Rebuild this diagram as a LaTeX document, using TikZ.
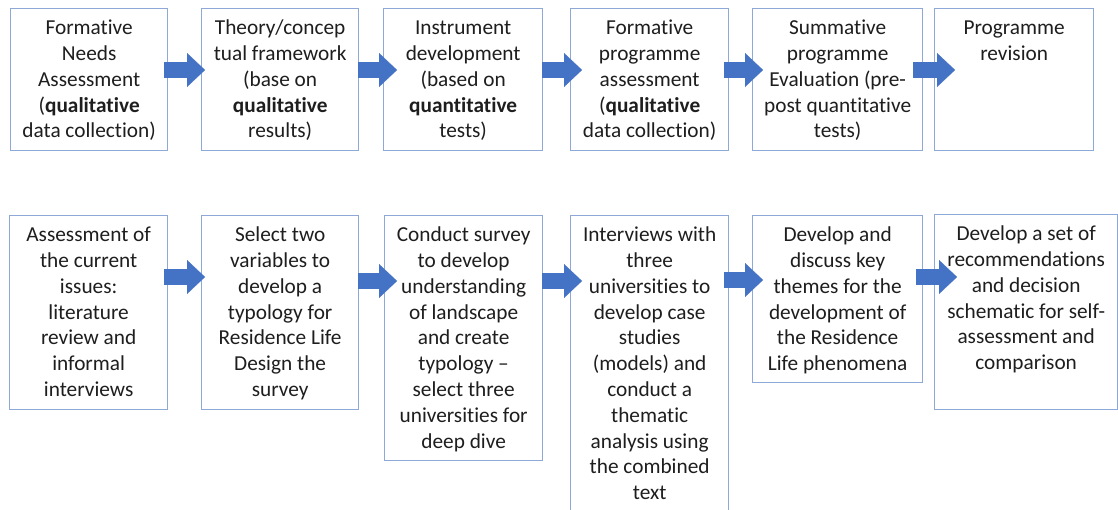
\documentclass[tikz,border=0pt]{standalone}
\usepackage{fontspec}
\setmainfont{Carlito}[Ligatures=NoCommon]
\usetikzlibrary{arrows.meta,calc}
\definecolor{boxline}{HTML}{8EA8D8}
\definecolor{flow}{HTML}{4472C4}
\definecolor{ink}{HTML}{1E1E1E}
\setlength{\parindent}{0pt}
% top-aligned, centred cell text of a given width and height
\newcommand{\celltext}[3]{\begin{minipage}[t][#2][t]{#1}\centering\rule{0pt}{26pt}#3\end{minipage}}
\tikzset{
  stagebox/.style={draw=boxline, line width=1.3pt, inner sep=0pt, anchor=north west,
    text=ink, font=\fontsize{21.3pt}{25.8pt}\selectfont},
  fatarrow/.style={draw=flow, line width=16pt,
    -{Triangle[length=18pt,width=34pt,line width=0.2pt]}}
}
\begin{document}
\begin{tikzpicture}[x=1pt,y=-1pt]
\clip (0,0) rectangle (1118,510);
\fill[white] (0,0) rectangle (1118,510);

% upper row: programme evaluation cycle
\node[stagebox] (t1) at (10,8) {\celltext{157pt}{142pt}{Formative\\ Needs\\ Assessment\\ (\textbf{qualitative}\\ data collection)}};
\node[stagebox] (t2) at (201,8) {\celltext{157pt}{142pt}{Theory/concep\\ tual framework\\ (base on\\ \textbf{qualitative}\\ results)}};
\node[stagebox] (t3) at (383,8) {\celltext{159pt}{142pt}{Instrument\\ development\\ (based on\\ \textbf{quantitative}\\ tests)}};
\node[stagebox] (t4) at (570,8) {\celltext{158pt}{142pt}{Formative\\ programme\\ assessment\\ (\textbf{qualitative}\\ data collection)}};
\node[stagebox] (t5) at (752,8) {\celltext{170pt}{142pt}{Summative\\ programme\\ Evaluation (pre-\\ post quantitative\\ tests)}};
\node[stagebox] (t6) at (934,8) {\celltext{159pt}{142pt}{Programme\\ revision}};

% lower row: study steps
\node[stagebox] (b1) at (9,215) {\celltext{158pt}{194pt}{Assessment of\\ the current\\ issues:\\ literature\\ review and\\ informal\\ interviews}};
\node[stagebox] (b2) at (201,215) {\celltext{157pt}{194pt}{Select two\\ variables to\\ develop a\\ typology for\\ Residence Life\\ Design the\\ survey}};
\node[stagebox] (b3) at (384,215) {\celltext{158pt}{245pt}{Conduct survey\\ to develop\\ understanding\\ of landscape\\ and create\\ typology –\\ select three\\ universities for\\ deep dive}};
\node[stagebox] (b4) at (570,215) {\celltext{158pt}{320pt}{Interviews with\\ three\\ universities to\\ develop case\\ studies\\ (models) and\\ conduct a\\ thematic\\ analysis using\\ the combined\\ text}};
\node[stagebox] (b5) at (752,215) {\celltext{170pt}{167pt}{Develop and\\ discuss key\\ themes for the\\ development of\\ the Residence\\ Life phenomena}};
\node[stagebox] (b6) at (934,214) {\celltext{183pt}{195pt}{Develop a set of\\ recommendations\\ and decision\\ schematic for self-\\ assessment and\\ comparison}};

% block arrows between consecutive stages
\draw[fatarrow] ($(t1.north east)+(-4,62)$) -- ($(t2.north west)+(4,62)$);
\draw[fatarrow] ($(t2.north east)+(-1,62)$) -- ($(t3.north west)+(14,62)$);
\draw[fatarrow] ($(t3.north east)+(-1,62)$) -- ($(t4.north west)+(12,62)$);
\draw[fatarrow] ($(t4.north east)+(-5,62)$) -- ($(t5.north west)+(11,62)$);
\draw[fatarrow] ($(t5.north east)+(-10,62)$) -- ($(t6.north west)+(21,62)$);

\draw[fatarrow] ($(b1.north east)+(-4,62)$) -- ($(b2.north west)+(4,62)$);
\draw[fatarrow] ($(b2.north east)+(-1,66)$) -- ($(b3.north west)+(13,66)$);
\draw[fatarrow] ($(b3.north east)+(-1,66)$) -- ($(b4.north west)+(12,66)$);
\draw[fatarrow] ($(b4.north east)+(-5,65)$) -- ($(b5.north west)+(11,65)$);
\draw[fatarrow] ($(b5.north east)+(-7,62)$) -- ($(b6.north west)+(23,63)$);
\end{tikzpicture}
\end{document}
